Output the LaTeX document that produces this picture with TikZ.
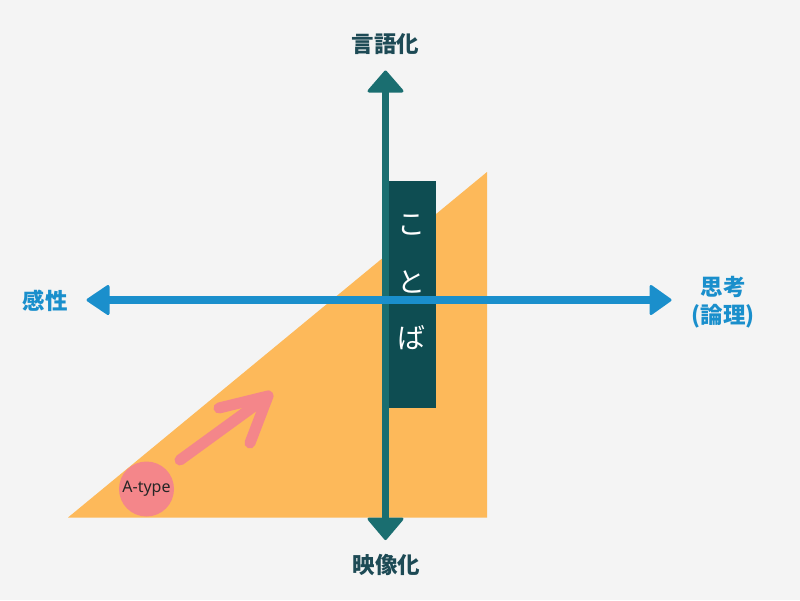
\documentclass[tikz,border=0pt]{standalone}
\usepackage{fontspec}
\setmainfont{Noto Sans}
\newfontfamily\jpfont{Noto Sans CJK JP}
\usetikzlibrary{calc}
\definecolor{bgc}{HTML}{F4F4F4}
\definecolor{orng}{HTML}{FDB95A}
\definecolor{tealline}{HTML}{1A6E70}
\definecolor{tealbox}{HTML}{0E4D52}
\definecolor{bluel}{HTML}{1A8FCC}
\definecolor{pinkc}{HTML}{F4868A}
\definecolor{labteal}{HTML}{1D4A55}
\tikzset{
  axisv/.style={draw=tealline,line width=7.5pt},
  axish/.style={draw=bluel,line width=8pt},
  tipv/.style={fill=tealline,draw=tealline,line width=3pt,line join=round},
  tiph/.style={fill=bluel,draw=bluel,line width=3pt,line join=round},
  vlabel/.style={font=\jpfont\bfseries\fontsize{22.5}{24}\selectfont,text=labteal,inner sep=0pt},
  hlabel/.style={font=\jpfont\bfseries\fontsize{22.5}{28}\selectfont,text=bluel,inner sep=0pt,align=center},
  kotoba/.style={font=\jpfont\fontsize{28}{30}\selectfont,text=white,inner sep=0pt},
  pinkarrow/.style={draw=pinkc,line width=11pt,line cap=round,line join=round}
}
\begin{document}
\begin{tikzpicture}[x=1pt,y=-1pt]
\fill[bgc] (0,0) rectangle (800,600);
\useasboundingbox (0,0) rectangle (800,600);
% orange triangle
\fill[orng] (68,517.5) -- (487,517.5) -- (487,172) -- cycle;
% vertical axis
\coordinate (vtop) at (385.5,88);
\coordinate (vbot) at (385.5,522);
\draw[axisv] (vtop) -- (vbot);
\filldraw[tipv] (385.5,72) -- (402,91) -- (369,91) -- cycle;
\filldraw[tipv] (385.5,538.5) -- (402,519) -- (369,519) -- cycle;
% box
\node[fill=tealbox,minimum width=46.5pt,minimum height=227.5pt,inner sep=0pt] (box) at (412.5,294.5) {};
% horizontal axis
\coordinate (hleft) at (104,300);
\coordinate (hright) at (655,300);
\draw[axish] (hleft) -- (hright);
\filldraw[tiph] (88,300) -- (108,286.5) -- (108,313.5) -- cycle;
\filldraw[tiph] (670,300) -- (651,286.5) -- (651,313.5) -- cycle;
% labels
\node[vlabel] (top) at (385.5,44) {言語化};
\node[vlabel] (bot) at (386.5,565) {映像化};
\node[hlabel] (left) at (45,301) {感性};
\node[hlabel] (right) at (723,302) {思考\\(論理)};
% kotoba
\node[kotoba] (ko) at (411,225) {こ};
\node[kotoba] (to) at (411,282) {と};
\node[kotoba] (ba) at (411,338) {ば};
% A-type
\node[circle,fill=pinkc,minimum size=55pt,inner sep=0pt,font=\fontsize{16}{17}\selectfont,text=black!85] (atype) at (146.5,489) {A-type};
\coordinate (pstart) at (180,460);
\coordinate (ptip) at (268,396);
\draw[pinkarrow] (pstart) -- (ptip);
\draw[pinkarrow] (219,408) -- (ptip) -- (250,443);
\end{tikzpicture}
\end{document}
